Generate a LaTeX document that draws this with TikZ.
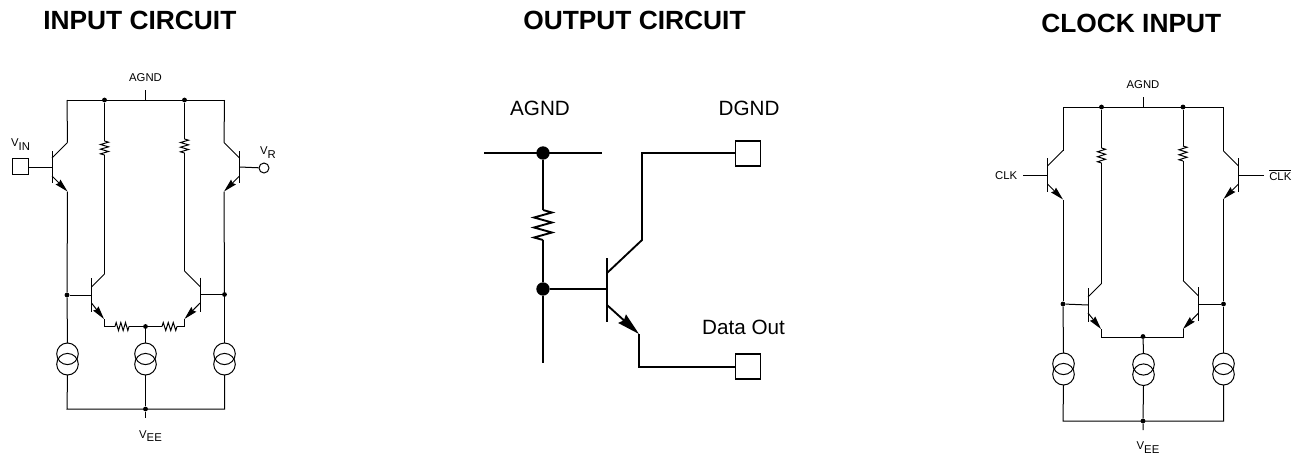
\documentclass[tikz,border=0pt]{standalone}
\usepackage{fontspec}
\setmainfont{Liberation Sans}
\usetikzlibrary{arrows.meta}
\tikzset{
  wire/.style={line width=0.75pt,line join=miter},
  heavy/.style={line width=1.4pt,line join=miter},
  title/.style={font=\bfseries\fontsize{19.75}{22}\selectfont,inner sep=0pt,anchor=west},
  small/.style={font=\fontsize{8.5}{10}\selectfont,inner sep=0pt},
  large/.style={font=\fontsize{15.5}{18}\selectfont,inner sep=0pt},
  jdot/.style={circle,fill=black,draw=none,inner sep=0pt,minimum size=#1},
  jdot/.default=3.6pt,
  pad/.style={rectangle,draw,fill=white,line width=#1,inner sep=0pt},
  pad/.default=0.75pt,
  port/.style={circle,draw,fill=white,line width=0.75pt,minimum size=7.5pt,inner sep=0pt},
  etip/.style={-{Stealth[length=#1,width=0.5*#1,inset=0.1*#1]}},
  etip/.default=10pt
}
\newcommand{\npnT}[8]{%
  \coordinate (#1-b) at (#2,#3);
  \coordinate (#1-c) at (#2+#4*#7,#3-#6-#7);
  \coordinate (#1-e) at (#2+#4*#7,#3+#6+#7);
  \draw[#8] (#2,#3-#5) -- (#2,#3+#5);
  \draw[#8] (#2,#3-#6) -- (#1-c);
}
\newcommand{\vres}[6]{% name x y0 y1 half-width style
  \coordinate (#1-t) at (#2,#3);
  \coordinate (#1-u) at (#2,#4);
  \pgfmathsetmacro{\rs}{(#4-#3)/6}
  \draw[#6] (#1-t) -- ++(#5,\rs*0.5) -- ++(-2*#5,\rs) -- ++(2*#5,\rs) -- ++(-2*#5,\rs) -- ++(2*#5,\rs) -- ++(-2*#5,\rs) -- (#1-u);
}
\newcommand{\hres}[5]{% name x0 x1 y half-width
  \coordinate (#1-l) at (#2,#4);
  \coordinate (#1-r) at (#3,#4);
  \pgfmathsetmacro{\rs}{(#3-#2)/6}
  \draw[wire] (#1-l) -- ++(\rs*0.5,-#5) -- ++(\rs,2*#5) -- ++(\rs,-2*#5) -- ++(\rs,2*#5) -- ++(\rs,-2*#5) -- ++(\rs,2*#5) -- (#1-r);
}
\newcommand{\csrc}[3]{% name x y(top)
  \coordinate (#1-t) at (#2,#3);
  \coordinate (#1-u) at (#2,#3+32);
  \draw[wire] (#2,#3+10.8) circle[radius=10.8];
  \draw[wire] (#2,#3+21.2) circle[radius=10.8];
}
\newcommand{\subtxt}[1]{\raisebox{-2.4pt}{#1}}
\begin{document}
\begin{tikzpicture}[x=0.75pt,y=-0.75pt]
\useasboundingbox (0,0) rectangle (1299,454);
\fill[white] (0,0) rectangle (1299,454);

% ---------- titles
\node[title] (t1) at (43,20) {INPUT CIRCUIT};
\node[title] (t2) at (523,20) {OUTPUT CIRCUIT};
\node[title] (t3) at (1041,23.5) {CLOCK INPUT};

% ---------- input circuit
\coordinate (a-tl) at (67,100);
\coordinate (a-tr) at (224.5,100);
\node[jdot] (a-d1) at (104.5,100) {};
\node[jdot] (a-d2) at (184.5,100) {};
\coordinate (a-top) at (145.5,100);
\coordinate (a-stub) at (145.5,90);
\node[small] (a-agnd) at (145.5,78) {AGND};
\draw[wire] (a-tl) -- (a-tr);
\draw[wire] (a-top) -- (a-stub);
\npnT{a-q1}{52}{167}{1}{16}{9}{15.5}{wire}
\npnT{a-q2}{239.5}{167}{-1}{16}{9}{15.5}{wire}
\npnT{a-q3}{91.5}{295}{1}{17}{8}{13}{wire}
\npnT{a-q4}{200}{294.5}{-1}{17}{8}{15.5}{wire}
\node[pad,minimum size=12pt] (a-vin) at (20,166) {};
\node[port] (a-vr) at (264,168) {};
\node[small] (a-vinl) at (20.5,144.5) {V\subtxt{IN}};
\node[small] (a-vrl) at (268,152.5) {V\subtxt{R}};
\draw[wire] (a-vin.east |- a-q1-b) -- (a-q1-b);
\draw[wire] (a-q2-b) -- (a-vr);
\draw[wire] (a-tl) -- (a-q1-c);
\draw[wire] (a-tr) -- (a-q2-c);
\draw[wire,etip] (52,176) -- (a-q1-e);
\draw[wire,etip] (239.5,176) -- (a-q2-e);
\vres{a-r1}{104.5}{141}{155}{4}{wire}
\vres{a-r2}{184.5}{139}{153}{4}{wire}
\draw[wire] (a-d1) -- (a-r1-t);
\draw[wire] (a-d2) -- (a-r2-t);
\draw[wire] (a-r1-u) -- (a-q3-c);
\draw[wire] (a-r2-u) -- (a-q4-c);
\node[jdot] (a-b1) at (67,295) {};
\node[jdot] (a-b2) at (224.5,294.5) {};
\draw[wire] (a-q1-e) -- (a-b1);
\draw[wire] (a-q2-e) -- (a-b2);
\draw[wire] (a-b1) -- (a-q3-b);
\draw[wire] (a-b2) -- (a-q4-b);
\coordinate (a-e1) at (104,319);
\coordinate (a-e2) at (184.5,319);
\coordinate (a-c1) at (104,326.5);
\coordinate (a-c2) at (184.5,326.5);
\draw[wire,etip] (91.5,303) -- (a-e1);
\draw[wire,etip] (200,303) -- (a-e2);
\node[jdot] (a-mid) at (145.5,326.5) {};
\hres{a-r3}{115}{129}{326.5}{4}
\hres{a-r4}{162}{177}{326.5}{4}
\draw[wire] (a-e1) -- (a-c1) -- (a-r3-l);
\draw[wire] (a-r3-r) -- (a-mid);
\draw[wire] (a-mid) -- (a-r4-l);
\draw[wire] (a-r4-r) -- (a-c2) -- (a-e2);
\csrc{a-s1}{67.5}{343}
\csrc{a-s2}{145.5}{343}
\csrc{a-s3}{224.5}{343}
\draw[wire] (a-b1) -- (a-s1-t);
\draw[wire] (a-mid) -- (a-s2-t);
\draw[wire] (a-b2) -- (a-s3-t);
\coordinate (a-bl) at (67,409);
\coordinate (a-br) at (224.5,409);
\node[jdot] (a-bot) at (145.5,409) {};
\coordinate (a-bs) at (145.5,418);
\draw[wire] (a-s1-u) -- (a-bl) -- (a-br) -- (a-s3-u);
\draw[wire] (a-s2-u) -- (a-bot) -- (a-bs);
\node[small] (a-vee) at (150.5,436) {V\subtxt{EE}};

% ---------- output circuit
\coordinate (o-l) at (484,153);
\coordinate (o-r) at (602,153);
\node[jdot=10pt] (o-d1) at (543,153) {};
\node[jdot=10pt] (o-d2) at (543,289) {};
\coordinate (o-end) at (543,363);
\draw[heavy] (o-l) -- (o-r);
\vres{o-r1}{543}{210}{240}{9}{heavy}
\draw[heavy] (o-d1) -- (o-r1-t);
\draw[heavy] (o-r1-u) -- (o-d2) -- (o-end);
\coordinate (o-b) at (607,289);
\coordinate (o-bt) at (607,258);
\coordinate (o-bb) at (607,322);
\draw[heavy] (o-bt) -- (o-bb);
\draw[heavy] (o-d2) -- (o-b);
\coordinate (o-c0) at (607,273);
\coordinate (o-c1) at (642,240);
\coordinate (o-c2) at (642,153);
\node[pad=1.1pt,minimum size=18.7pt] (o-dg) at (748,153.3) {};
\draw[heavy] (o-c0) -- (o-c1) -- (o-c2) -- (o-dg.west |- o-c2);
\coordinate (o-e0) at (607,305);
\coordinate (o-e1) at (639,334);
\coordinate (o-e2) at (639,367);
\node[pad=1.1pt,minimum size=18.7pt] (o-do) at (748,366.5) {};
\draw[heavy,etip=17pt] (o-e0) -- (o-e1);
\draw[heavy] (o-e1) -- (o-e2) -- (o-do.west |- o-e2);
\node[large] (o-agnd) at (540,108) {AGND};
\node[large] (o-dgnd) at (749,108) {DGND};
\node[large] (o-data) at (743.5,327) {Data Out};

% ---------- clock input
\coordinate (c-tl) at (1063,107);
\coordinate (c-tr) at (1223.5,107);
\node[jdot] (c-d1) at (1101.5,107) {};
\node[jdot] (c-d2) at (1183,107) {};
\coordinate (c-top) at (1143,107);
\coordinate (c-stub) at (1143,97);
\node[small] (c-agnd) at (1143,85) {AGND};
\draw[wire] (c-tl) -- (c-tr);
\draw[wire] (c-top) -- (c-stub);
\npnT{c-q1}{1047.5}{175}{1}{17}{9}{15.5}{wire}
\npnT{c-q2}{1238.5}{175}{-1}{17}{9}{15}{wire}
\npnT{c-q3}{1088}{305}{1}{17}{8}{13.5}{wire}
\npnT{c-q4}{1198.5}{304}{-1}{17}{8}{15.5}{wire}
\coordinate (c-in1) at (1023,175);
\coordinate (c-in2) at (1264,175);
\node[small,anchor=east] (c-clk) at (1017.5,175.5) {CLK};
\node[small,anchor=west] (c-nclk) at (1269,175) {$\overline{\hbox{CLK}}$};
\draw[wire] (c-in1) -- (c-q1-b);
\draw[wire] (c-q2-b) -- (c-in2);
\draw[wire] (c-tl) -- (c-q1-c);
\draw[wire] (c-tr) -- (c-q2-c);
\draw[wire,etip] (1047.5,184) -- (c-q1-e);
\draw[wire,etip] (1238.5,184) -- (c-q2-e);
\vres{c-r1}{1101.5}{148}{163}{4}{wire}
\vres{c-r2}{1183}{146}{161}{4}{wire}
\draw[wire] (c-d1) -- (c-r1-t);
\draw[wire] (c-d2) -- (c-r2-t);
\draw[wire] (c-r1-u) -- (c-q3-c);
\draw[wire] (c-r2-u) -- (c-q4-c);
\node[jdot] (c-b1) at (1063,304) {};
\node[jdot] (c-b2) at (1223.5,304) {};
\draw[wire] (c-q1-e) -- (c-b1);
\draw[wire] (c-q2-e) -- (c-b2);
\draw[wire] (c-b1) -- (c-q3-b);
\draw[wire] (c-b2) -- (c-q4-b);
\coordinate (c-e1) at (1101,329);
\coordinate (c-e2) at (1183,329);
\coordinate (c-c1) at (1101,337);
\coordinate (c-c2) at (1183,337);
\node[jdot] (c-mid) at (1143,336.5) {};
\draw[wire,etip] (1088,313) -- (c-e1);
\draw[wire,etip] (1198.5,313) -- (c-e2);
\draw[wire] (c-e1) -- (c-c1) -- (c-c2) -- (c-e2);
\csrc{c-s1}{1063.5}{353}
\csrc{c-s2}{1143.5}{353.5}
\csrc{c-s3}{1223.5}{353}
\draw[wire] (c-b1) -- (c-s1-t);
\draw[wire] (c-mid) -- (c-s2-t);
\draw[wire] (c-b2) -- (c-s3-t);
\coordinate (c-bl) at (1063,421);
\coordinate (c-br) at (1223.5,421);
\node[jdot] (c-bot) at (1143,421) {};
\coordinate (c-bs) at (1143,430);
\draw[wire] (c-s1-u) -- (c-bl) -- (c-br) -- (c-s3-u);
\draw[wire] (c-s2-u) -- (c-bot) -- (c-bs);
\node[small] (c-vee) at (1148,447.5) {V\subtxt{EE}};
\end{tikzpicture}
\end{document}
